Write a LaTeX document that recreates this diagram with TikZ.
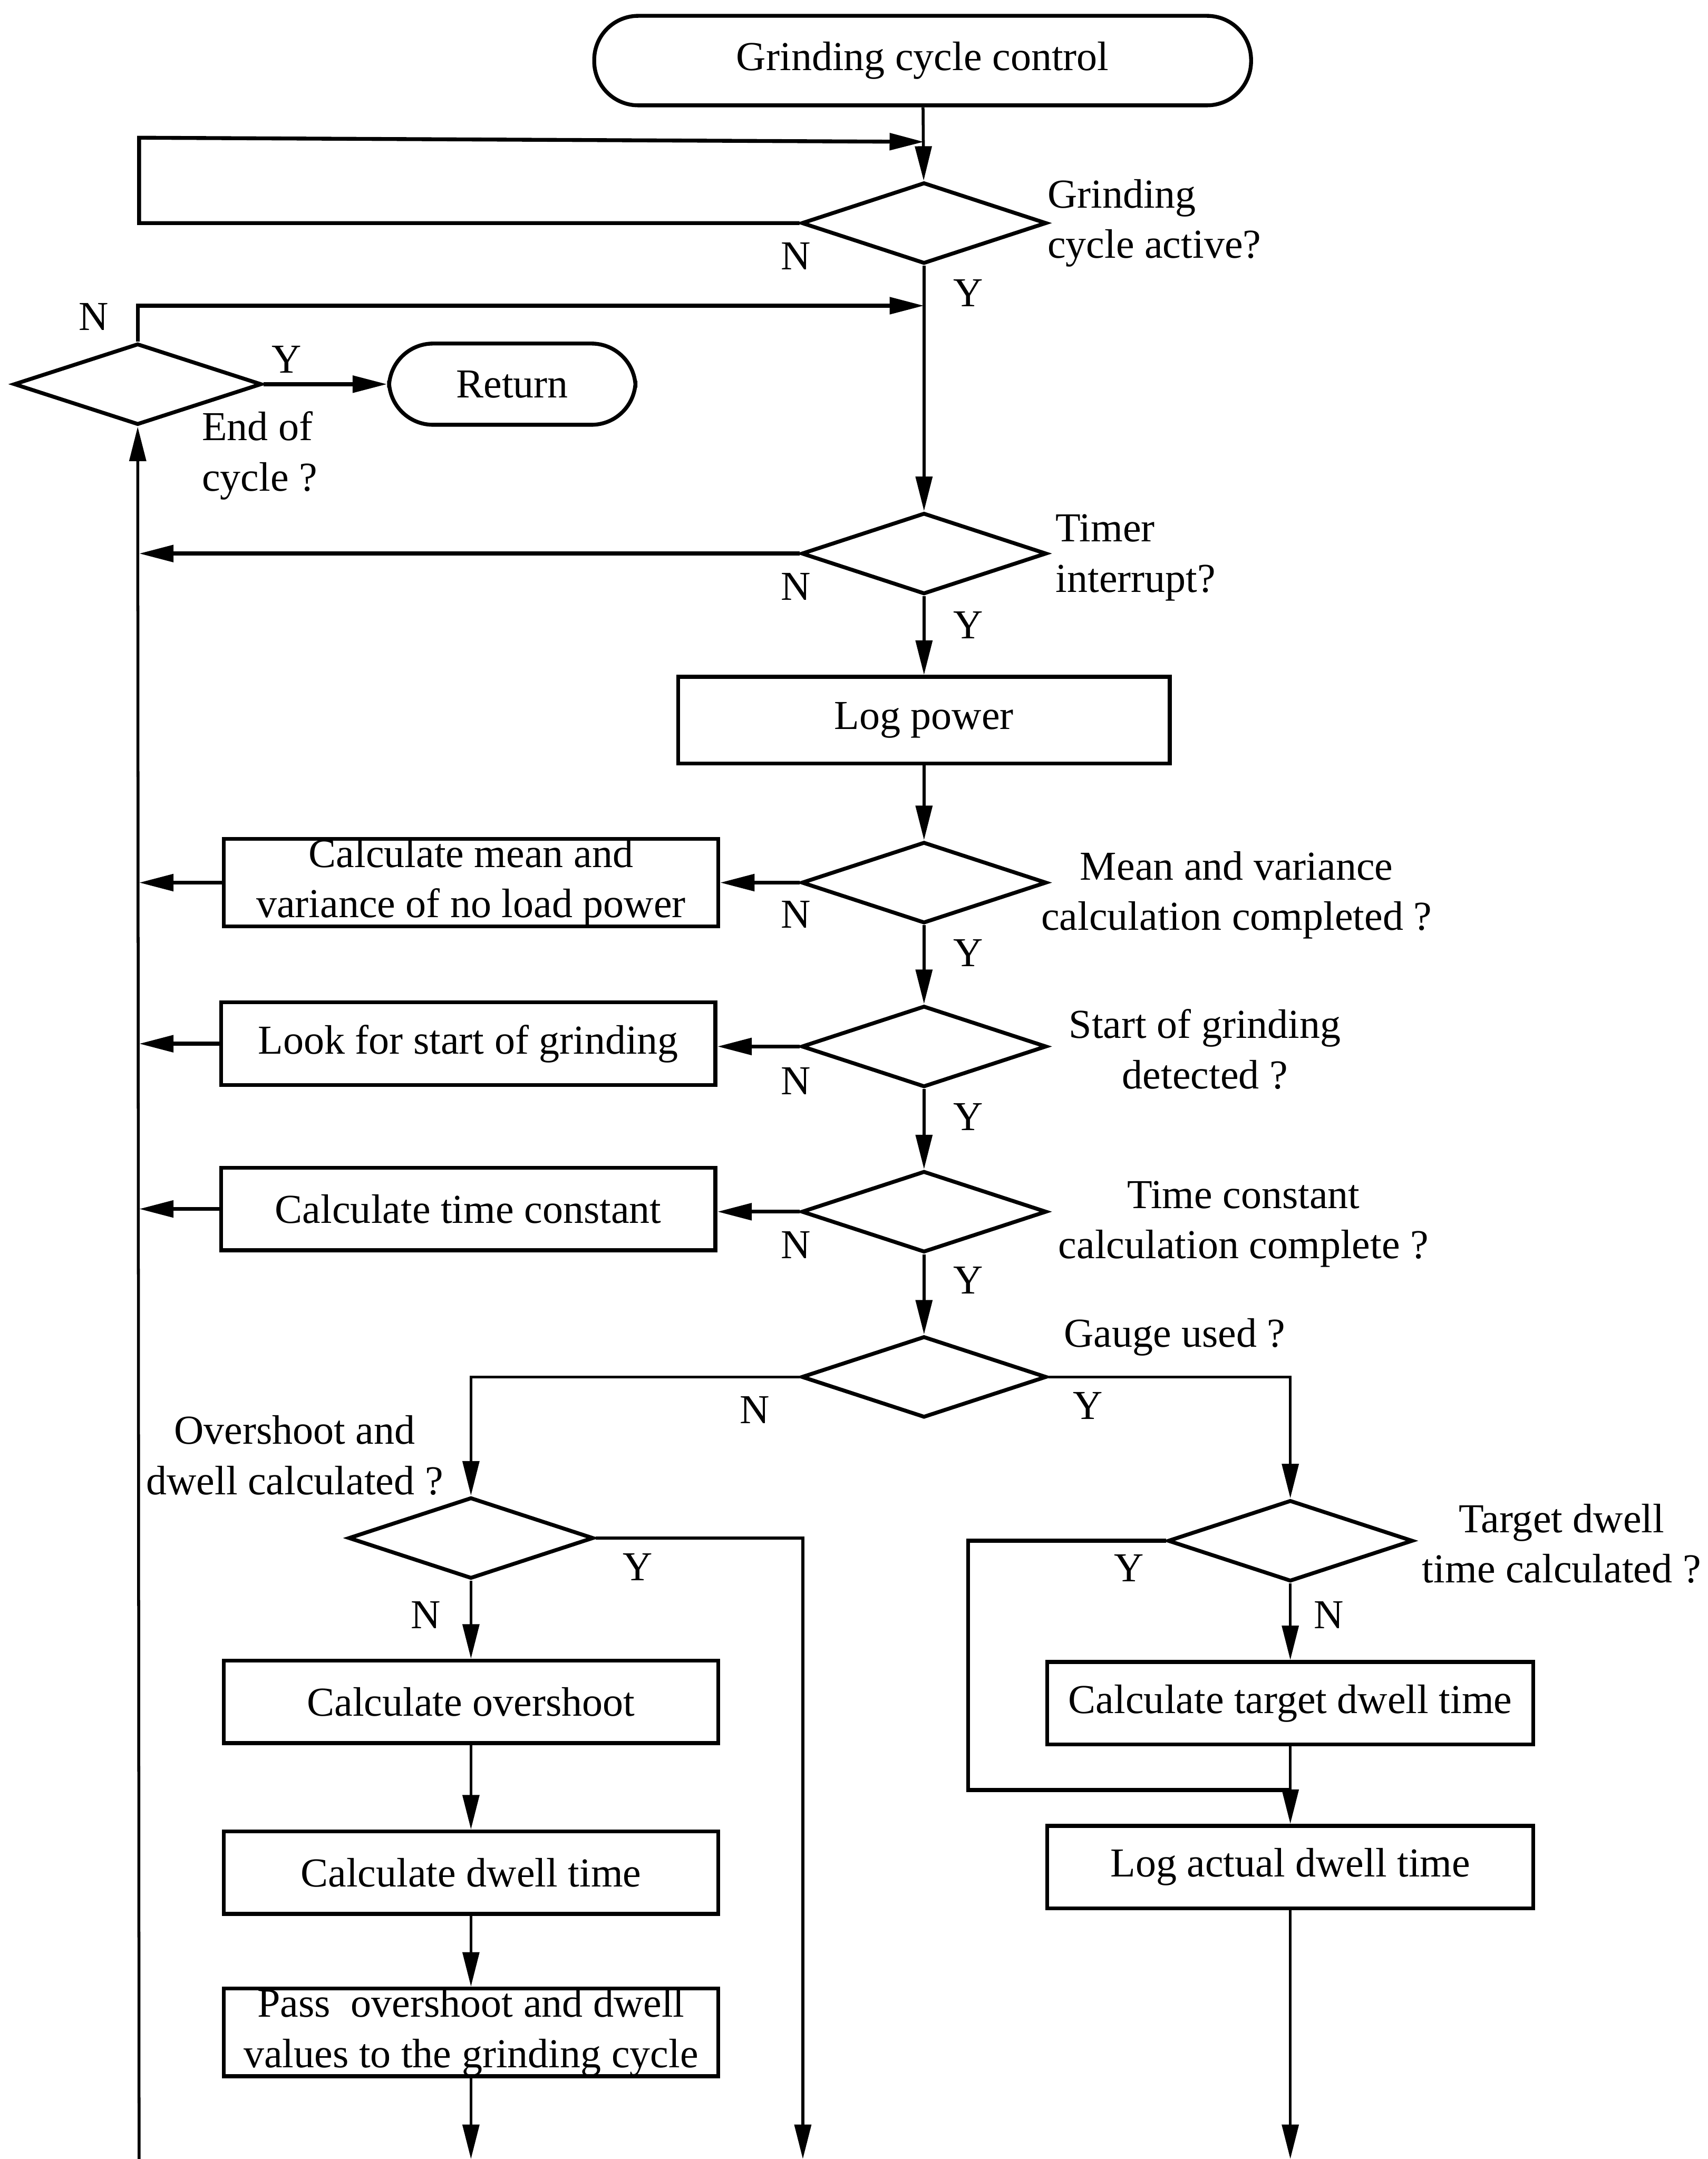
\documentclass[tikz,border=0pt]{standalone}
\usepackage{fontspec}
\setmainfont{Liberation Serif}
\usetikzlibrary{arrows.meta,shapes.geometric}
\begin{document}
\begin{tikzpicture}[x=0.1mm,y=-0.1mm,
  font=\fontsize{8.5}{10.4}\selectfont,
  box/.style={draw,line width=0.8pt,rectangle,minimum width=35.9mm,minimum height=6mm,inner sep=0pt,align=center},
  dec/.style={draw,line width=0.8pt,diamond,minimum width=17.8mm,minimum height=5.9mm,inner sep=0pt},
  term/.style={draw,line width=0.8pt,rectangle,rounded corners=3.2mm,inner sep=0pt},
  conn/.style={line width=0.6pt},
  arr/.style={conn,-{Triangle[length=2.5mm,width=1.2mm]}},
  lbl/.style={inner sep=0pt,align=center},
  lbll/.style={inner sep=0pt,align=left,anchor=west},
]
\useasboundingbox (0,0) rectangle (1240,1568);
\fill[white] (0,0) rectangle (1240,1568);

% terminals
\node[term,minimum width=47.7mm,minimum height=6.5mm] (start) at (670,44) {Grinding cycle control};
\node[term,minimum width=17.9mm,minimum height=5.9mm] (ret) at (372,279) {Return};

% decisions
\node[dec] (d1) at (671,162) {};
\node[dec,minimum width=18mm] (d0) at (100,279) {};
\node[dec] (d2) at (671,402) {};
\node[dec] (d3) at (671,641) {};
\node[dec] (d4) at (671,760) {};
\node[dec] (d5) at (671,880) {};
\node[dec] (d6) at (671,1000) {};
\node[dec] (d7) at (342,1117) {};
\node[dec] (d8) at (937,1119) {};

% process boxes
\node[box,minimum width=35.7mm,minimum height=6.3mm] (logp) at (671,523) {Log power};
\node[box] (b3) at (342,641) {Calculate mean and\\variance of no load power};
\node[box] (b4) at (340,758) {Look for start of grinding};
\node[box] (b5) at (340,878) {Calculate time constant};
\node[box] (b7a) at (342,1236) {Calculate overshoot};
\node[box] (b7b) at (342,1360) {Calculate dwell time};
\node[box] (b7c) at (342,1476) {Pass\ \ overshoot and dwell\\values to the grinding cycle};
\node[box,minimum width=35.3mm] (b8a) at (937,1237) {Calculate target dwell time};
\node[box,minimum width=35.3mm] (b8b) at (937,1356) {Log actual dwell time};

% decision labels
\node[lbll] (t1) at (760,162) {Grinding\\cycle active?};
\node[lbll] (t0) at (146,331) {End of\\cycle ?};
\node[lbll] (t2) at (766,405) {Timer\\interrupt?};
\node[lbl] (t3) at (898,650) {Mean and variance\\calculation completed ?};
\node[lbl] (t4) at (875,762) {Start of grinding\\detected ?};
\node[lbl] (t5) at (903,889) {Time constant\\calculation complete ?};
\node[lbl] (t6) at (853,971) {Gauge used ?};
\node[lbl] (t7) at (214,1057) {Overshoot and\\dwell calculated ?};
\node[lbl] (t8) at (1134,1121) {Target dwell\\time calculated ?};

% Y / N labels
\node[lbl] (n1) at (578,186) {N};
\node[lbl] (y1) at (703,213) {Y};
\node[lbl] (n0) at (68,230) {N};
\node[lbl] (y0) at (208,261) {Y};
\node[lbl] (n2) at (578,426) {N};
\node[lbl] (y2) at (703,454) {Y};
\node[lbl] (n3) at (578,664) {N};
\node[lbl] (y3) at (703,692) {Y};
\node[lbl] (n4) at (578,785) {N};
\node[lbl] (y4) at (703,811) {Y};
\node[lbl] (n5) at (578,904) {N};
\node[lbl] (y5) at (703,930) {Y};
\node[lbl] (n6) at (548,1024) {N};
\node[lbl] (y6) at (790,1021) {Y};
\node[lbl] (y7) at (463,1138) {Y};
\node[lbl] (n7) at (309,1173) {N};
\node[lbl] (y8) at (820,1139) {Y};
\node[lbl] (n8) at (965,1173) {N};

% junction / end coordinates
\coordinate (j1) at (671,103);
\coordinate (j2) at (671,222);
\coordinate (j8) at (937,1300);
\coordinate (rail) at (101,1568);
\coordinate (bot1) at (342,1568);
\coordinate (bot2) at (583,1568);
\coordinate (bot3) at (937,1568);

% main column
\draw[arr] (start) -- (d1);
\draw[arr,line width=0.8pt] (d1.west) -- (101,162) -- (101,100) -- (j1);
\draw[arr] (d1) -- (d2);
\draw[arr,line width=0.8pt] (d0.north) |- (j2);
\draw[arr,line width=0.8pt] (d0.east) -- (ret.west);
\draw[arr] (rail) -- (d0.south);
\draw[arr,line width=0.8pt] (d2.west) -- (d2.west -| rail);
\draw[arr] (d2) -- (logp);
\draw[arr] (logp) -- (d3);
\draw[arr,line width=0.8pt] (d3.west) -- (d3.west -| b3.east);
\draw[arr,line width=0.8pt] (b3.west) -- (b3.west -| rail);
\draw[arr] (d3) -- (d4);
\draw[arr,line width=0.8pt] (d4.west) -- (d4.west -| b4.east);
\draw[arr,line width=0.8pt] (b4.west) -- (b4.west -| rail);
\draw[arr] (d4) -- (d5);
\draw[arr,line width=0.8pt] (d5.west) -- (d5.west -| b5.east);
\draw[arr,line width=0.8pt] (b5.west) -- (b5.west -| rail);
\draw[arr] (d5) -- (d6);

% gauge branches
\draw[arr] (d6.west) -| (d7.north);
\draw[arr] (d6.east) -| (d8.north);

% left branch
\draw[arr] (d7.east) -| (bot2);
\draw[arr] (d7) -- (b7a);
\draw[arr] (b7a) -- (b7b);
\draw[arr] (b7b) -- (b7c);
\draw[arr] (b7c) -- (bot1);

% right branch
\draw[arr] (d8) -- (b8a);
\draw[conn,line width=0.8pt] (d8.west) -- (703,1119) |- (j8);
\draw[arr] (b8a) -- (b8b);
\draw[arr] (b8b) -- (bot3);
\end{tikzpicture}
\end{document}
